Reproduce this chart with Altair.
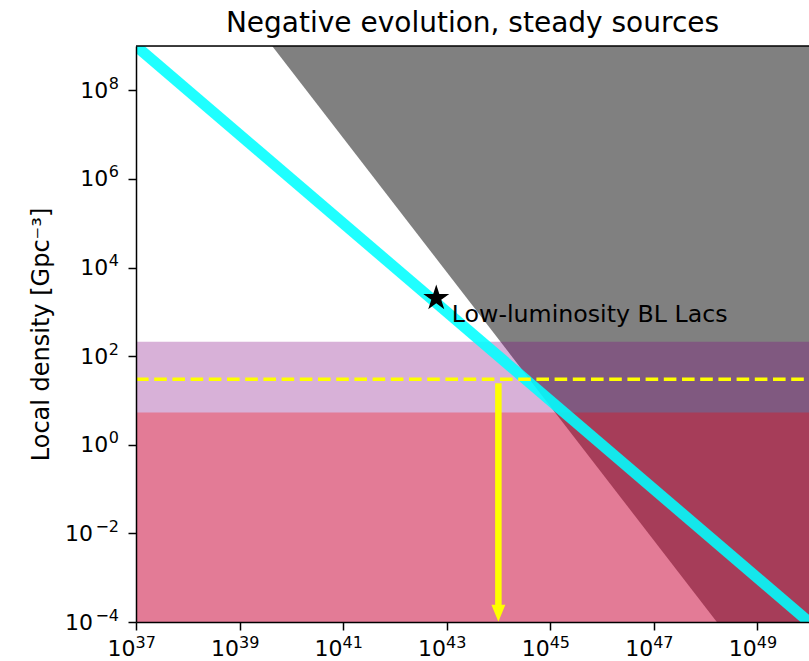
import altair as alt
import pandas as pd

# ---- values (log10 units where noted) ----
title_text = "Negative evolution, steady sources"
y_title = "Local density [Gpc⁻³]"
x_tick_exp = [37, 39, 41, 43, 45, 47, 49]
y_tick_exp = [-4, -2, 0, 2, 4, 6, 8]
x_domain = [1e37, 1e50]
y_domain = [1e-4, 1e9]

# grey excluded region (boundary points)
grey_x = [10**39.63, 10**48.22, 1e50]
grey_y = [1e9, 1e-4, 1e-4]

# horizontal bands
purple_top = 10**2.31
red_top = 10**0.71

# cyan line end points
cyan_x = [10**36.5, 10**50.5]
cyan_y = [10**9.5, 10**-4.5]

# star (low-luminosity BL Lacs)
star_x = [10**42.8]
star_y = [10**3.31]
label_x = [10**43.1]
label_y = [10**2.77]
label_txt = ["Low-luminosity BL Lacs"]

# yellow dashed level and arrow
yellow_level = 10**1.48
arrow_x = 1e44
arrow_top = 10**1.39
arrow_shaft_bottom = 10**-3.65
arrow_head_y = 10**-3.8

STAR_PATH = ("M0,-1L0.2245,-0.309L0.9511,-0.309L0.3633,0.118L0.5878,0.809"
             "L0,0.382L-0.5878,0.809L-0.3633,0.118L-0.9511,-0.309L-0.2245,-0.309Z")
HEAD_PATH = "M-0.82,-1L0.82,-1L0,1Z"

FONT = "DejaVu Sans"
BASE_FS = 22
SUP_FS = 16
xs = alt.Scale(type="log", domain=x_domain, nice=False)
ys = alt.Scale(type="log", domain=y_domain, nice=False)


def sup_text(e):
    return str(e).replace("-", "\u2212")


def sup_width(e):
    s = sup_text(e)
    return sum(0.838 if c == "\u2212" else 0.636 for c in s) * SUP_FS + (2 if "\u2212" in s else 0)


x_axis = alt.Axis(values=[10.0**e for e in x_tick_exp], labels=False,
                  title=None, grid=False, tickSize=8, tickWidth=1.5, tickColor="black",
                  domainColor="black", domainWidth=1.5, zindex=1)
y_axis = alt.Axis(values=[10.0**e for e in y_tick_exp], labels=False,
                  title=y_title, titleFontSize=24, titleFont=FONT,
                  titleFontWeight="normal", titleColor="black", titlePadding=74,
                  grid=False, tickSize=8, tickWidth=1.5, tickColor="black",
                  domainColor="black", domainWidth=1.5, zindex=1)

grey_df = pd.DataFrame({"x": grey_x, "y": grey_y, "y2": [1e9] * len(grey_x)})
grey = alt.Chart(grey_df).mark_area(color="#808080", opacity=1, clip=True).encode(
    x=alt.X("x:Q", scale=xs, axis=x_axis),
    y=alt.Y("y:Q", scale=ys, axis=y_axis),
    y2="y2:Q",
)

band_df = pd.DataFrame({
    "x": [x_domain[0]] * 2, "x2": [x_domain[1]] * 2,
    "y": [1e-4, 1e-4], "y2": [purple_top, red_top],
    "band": ["purple", "red"],
})
purple = alt.Chart(band_df[band_df.band == "purple"]).mark_rect(
    color="purple", opacity=0.3, stroke="purple", strokeWidth=1.5, clip=True
).encode(x=alt.X("x:Q", scale=xs), x2="x2:Q", y=alt.Y("y:Q", scale=ys), y2="y2:Q")
red = alt.Chart(band_df[band_df.band == "red"]).mark_rect(
    color="red", opacity=0.3, stroke="red", strokeWidth=1.5, clip=True
).encode(x=alt.X("x:Q", scale=xs), x2="x2:Q", y=alt.Y("y:Q", scale=ys), y2="y2:Q")

cyan_df = pd.DataFrame({"x": cyan_x, "y": cyan_y})
cyan = alt.Chart(cyan_df).mark_line(color="#00ffff", strokeWidth=11, opacity=0.88,
                                     strokeCap="butt", clip=True).encode(
    x=alt.X("x:Q", scale=xs), y=alt.Y("y:Q", scale=ys))

dash_df = pd.DataFrame({"x": x_domain, "y": [yellow_level] * 2})
dashed = alt.Chart(dash_df).mark_line(color="#ffff00", strokeWidth=3.5,
                                       strokeDash=[12.6, 5.6], clip=True).encode(
    x=alt.X("x:Q", scale=xs), y=alt.Y("y:Q", scale=ys))

shaft_df = pd.DataFrame({"x": [arrow_x], "y": [arrow_top], "y2": [arrow_shaft_bottom]})
shaft = alt.Chart(shaft_df).mark_rule(color="#ffff00", strokeWidth=6.5).encode(
    x=alt.X("x:Q", scale=xs), y=alt.Y("y:Q", scale=ys), y2="y2:Q")
head_df = pd.DataFrame({"x": [arrow_x], "y": [arrow_head_y]})
head = alt.Chart(head_df).mark_point(
    shape=HEAD_PATH, filled=True, color="#ffff00", opacity=1, size=289
).encode(x=alt.X("x:Q", scale=xs), y=alt.Y("y:Q", scale=ys))

star_df = pd.DataFrame({"x": star_x, "y": star_y})
star = alt.Chart(star_df).mark_point(shape=STAR_PATH, filled=True, color="black",
                                     opacity=1, size=748).encode(
    x=alt.X("x:Q", scale=xs), y=alt.Y("y:Q", scale=ys))

lab_df = pd.DataFrame({"x": label_x, "y": label_y, "t": label_txt})
label = alt.Chart(lab_df).mark_text(align="left", baseline="alphabetic", fontSize=23.7,
                                    font=FONT, color="black").encode(
    x=alt.X("x:Q", scale=xs), y=alt.Y("y:Q", scale=ys), text="t:N")

top_spine = alt.Chart(pd.DataFrame({"y": [y_domain[1]]})).mark_rule(
    color="black", strokeWidth=1.5).encode(y=alt.Y("y:Q", scale=ys))

# ---- tick labels "10" + superscript exponent ----
tick_layers = []
xl_df = pd.DataFrame({"v": [10.0**e for e in x_tick_exp],
                      "sup": [sup_text(e) for e in x_tick_exp]})
tick_layers.append(alt.Chart(xl_df).mark_text(
    align="right", baseline="alphabetic", fontSize=BASE_FS, font=FONT, color="black",
    dx=-0.5, dy=33.7).encode(
    x=alt.X("v:Q", scale=xs), y=alt.datum(y_domain[0], scale=ys), text=alt.value("10")))
tick_layers.append(alt.Chart(xl_df).mark_text(
    align="left", baseline="alphabetic", fontSize=SUP_FS, font=FONT, color="black",
    dx=-0.5, dy=25.7).encode(
    x=alt.X("v:Q", scale=xs), y=alt.datum(y_domain[0], scale=ys), text="sup:N"))

SUP_RIGHT = -17  # px from the left spine
for group in ([e for e in y_tick_exp if e < 0], [e for e in y_tick_exp if e >= 0]):
    w = sup_width(group[0])
    gdf = pd.DataFrame({"v": [10.0**e for e in group], "sup": [sup_text(e) for e in group]})
    tick_layers.append(alt.Chart(gdf).mark_text(
        align="right", baseline="alphabetic", fontSize=BASE_FS, font=FONT, color="black",
        dx=SUP_RIGHT - w - 0.5, dy=7.5).encode(
        x=alt.datum(x_domain[0], scale=xs), y=alt.Y("v:Q", scale=ys), text=alt.value("10")))
    tick_layers.append(alt.Chart(gdf).mark_text(
        align="right", baseline="alphabetic", fontSize=SUP_FS, font=FONT, color="black",
        dx=SUP_RIGHT, dy=-1.5).encode(
        x=alt.datum(x_domain[0], scale=xs), y=alt.Y("v:Q", scale=ys), text="sup:N"))

chart = alt.layer(grey, purple, red, cyan, dashed, shaft, head, star, label, top_spine,
                  *tick_layers).properties(
    width=673, height=576,
    title=alt.TitleParams(title_text, fontSize=28, font=FONT, fontWeight="normal",
                          color="black", anchor="middle", offset=7),
    autosize=alt.AutoSizeParams(type="none"),
    padding={"left": 136, "top": 46, "right": 0, "bottom": 39},
).configure_view(stroke=None).configure(background="white")

chart.save("out.html", embed_options={"renderer": "svg", "actions": False})
